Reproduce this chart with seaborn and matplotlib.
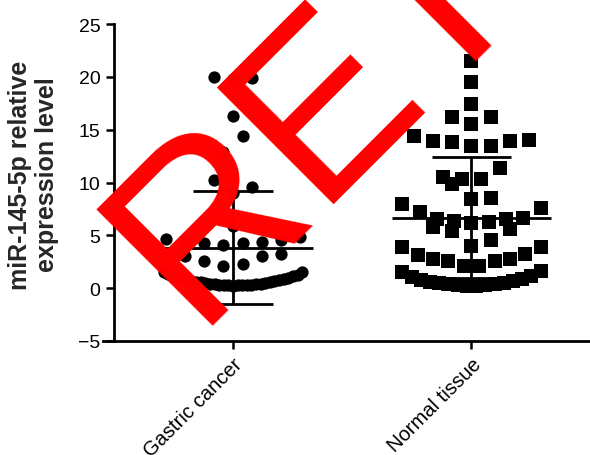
import numpy as np
import pandas as pd
import matplotlib
matplotlib.use("Agg")
import matplotlib.pyplot as plt
import seaborn as sns

# ---- data -----------------------------------------------------------------
groups = ["Gastric cancer", "Normal tissue"]

gastric_cancer = [
    0.25, 0.26, 0.27, 0.28, 0.29, 0.30, 0.32, 0.34, 0.36, 0.39, 0.41,
    0.44, 0.47, 0.51, 0.54, 0.59, 0.62, 0.68, 0.72, 0.78, 0.82, 0.89,
    0.93, 1.00, 1.05, 1.13, 1.18, 1.27, 1.30, 1.50, 1.50,
    2.1, 2.3, 2.6, 3.0, 3.0, 3.25,
    4.1, 4.3, 4.3, 4.4, 4.5, 4.6, 4.7, 4.8,
    5.9,
    9.0, 9.6, 10.2,
    12.9, 14.4,
    16.3,
    19.8, 19.9, 20.0,
]

normal_tissue = [
    0.20, 0.22, 0.26, 0.30, 0.35, 0.40, 0.47, 0.53,
    0.62, 0.70, 0.80, 0.90, 1.05, 1.15, 1.50, 1.60,
    2.1, 2.1, 2.6, 2.6, 2.8, 2.8, 3.1, 3.2, 3.85, 3.85,
    4.0, 4.6, 5.4, 5.6, 5.75,
    6.2, 6.3, 6.4, 6.5, 6.5, 6.6, 7.2, 7.6, 7.95,
    8.4, 8.5, 9.9,
    10.3, 10.3, 10.5, 11.4,
    13.5, 13.5, 13.8, 13.9, 13.9, 14.0, 14.4,
    15.5, 16.2, 16.2,
    17.4, 19.5, 21.5,
]

y_ticks = [-5, 0, 5, 10, 15, 20, 25]


def row_offsets(values, row_height=1.78, slot=0.08, half_width=0.29):
    """Scatter-dot layout: values are grouped into rows, each row spread
    symmetrically around the category centre (lowest values innermost)."""
    values = np.asarray(values, dtype=float)
    order = np.argsort(values, kind="stable")
    v = values[order]
    out = np.zeros(len(v))
    start = 0
    while start < len(v):
        end = start + 1
        while end < len(v) and v[end] - v[start] < row_height:
            end += 1
        n = end - start
        step = slot if n == 1 else min(slot, 2 * half_width / (n - 1))
        slots = np.arange(n) - (n - 1) / 2
        if n % 2:
            seq = sorted(slots, key=lambda s: (abs(s), -s))
        else:
            seq = sorted(slots, key=lambda s: (abs(s), s))
        out[start:end] = np.array(seq) * step
        start = end
    offsets = np.empty(len(v))
    offsets[order] = out
    return offsets


frames = []
for i, (name, vals) in enumerate(zip(groups, [gastric_cancer, normal_tissue])):
    frames.append(pd.DataFrame({
        "group": name,
        "value": vals,
        "x": i + row_offsets(vals),
    }))
df = pd.concat(frames, ignore_index=True)

# ---- figure ---------------------------------------------------------------
sns.set_theme(style="ticks")
plt.rcParams["font.family"] = ["Liberation Sans", "DejaVu Sans"]

fig = plt.figure(figsize=(5.9, 4.56), dpi=100)
ax = fig.add_axes([103 / 590, 114 / 456, 487 / 590, 317 / 456])

marker_styles = {"Gastric cancer": ("o", 78), "Normal tissue": ("s", 88)}
for name in groups:
    marker, size = marker_styles[name]
    sns.scatterplot(data=df[df["group"] == name], x="x", y="value",
                    marker=marker, s=size, color="black", linewidth=0,
                    ax=ax, zorder=2, legend=False)

# mean and SD bars
for i, name in enumerate(groups):
    vals = df.loc[df["group"] == name, "value"]
    m, sd = vals.mean(), vals.std()
    ax.hlines(m, i - 0.335, i + 0.335, color="black", lw=2.0, zorder=3)
    ax.hlines([m - sd, m + sd], i - 0.167, i + 0.167, color="black", lw=2.0, zorder=3)
    ax.vlines(i, m - sd, m + sd, color="black", lw=2.0, zorder=3)

ax.set_xlim(-0.545, 1.497)
ax.set_ylim(-5, 25)
ax.set_yticks(y_ticks)
ax.set_yticklabels([str(t).replace("-", "\u2212") for t in y_ticks])
ax.set_xticks([0, 1])
ax.set_xticklabels(groups, rotation=45, ha="right", rotation_mode="anchor",
                   fontsize=14.5)
ax.set_xlabel("")
ax.set_ylabel("miR-145-5p relative\nexpression level", fontsize=18,
              fontweight="bold", linespacing=1.15)
ax.yaxis.set_label_coords(-0.09, 0.527)

for side in ("top", "right"):
    ax.spines[side].set_visible(False)
ax.spines["left"].set_position(("data", -0.5))
for side in ("left", "bottom"):
    ax.spines[side].set_linewidth(2.0)
    ax.spines[side].set_color("black")
ax.tick_params(axis="both", colors="black", length=6, width=1.8)
ax.tick_params(axis="y", labelsize=14)

fig.text(193 / 590, 1 - 326 / 456, "RETRACTED", rotation=45,
         rotation_mode="anchor", ha="left", va="baseline", fontsize=172,
         color="#ff0000", family="Liberation Sans", zorder=10)

fig.savefig("out.png", dpi=100, facecolor="white")
